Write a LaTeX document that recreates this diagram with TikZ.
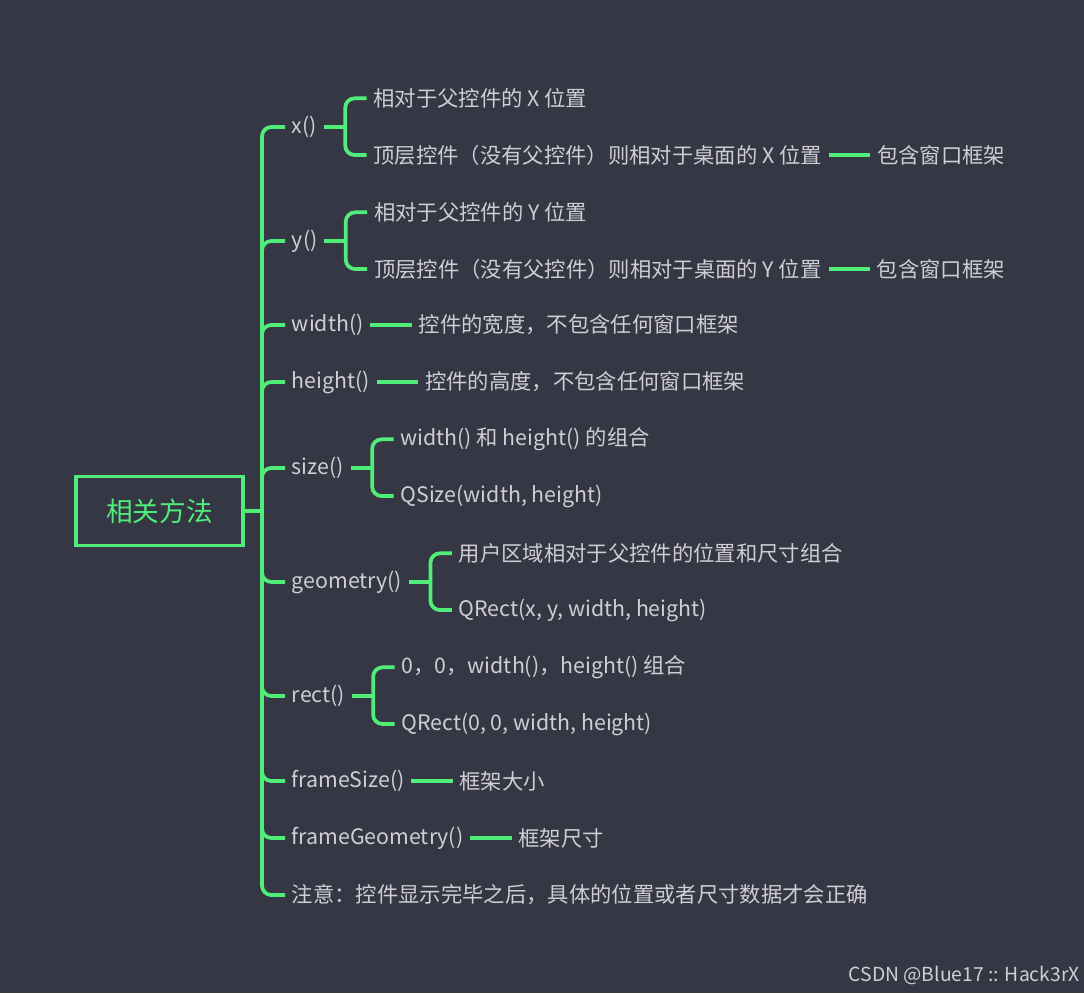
\documentclass[tikz,border=0pt]{standalone}
\usepackage{fontspec}
\setmainfont{Noto Sans CJK SC}
\usetikzlibrary{positioning}
\definecolor{bgdark}{RGB}{53,55,68}
\definecolor{mapgreen}{RGB}{80,238,120}
\definecolor{mapgray}{RGB}{206,206,212}

\begin{document}
\begin{tikzpicture}[x=0.75pt, y=-0.75pt,
    item/.style={anchor=west, text=mapgray, font=\fontsize{16}{19}\selectfont, inner xsep=5pt, inner ysep=2pt},
    link/.style={mapgreen, line width=2.8pt},
    elbow/.style={link, rounded corners=7pt}]
    % Background
    \fill[bgdark] (0,0) rectangle (1084,993);
    \useasboundingbox (0,0) rectangle (1084,993);

    % Root
    \node[draw=mapgreen, line width=2.6pt, text=mapgreen, font=\fontsize{20}{24}\selectfont,
          minimum width=125pt, minimum height=52pt] (root) at (159.5,511) {相关方法};
    \coordinate (trunk) at (262,511);
    \draw[link] (root) -- (trunk);

    % First level
    \node[item] (xpos) at (285,127) {x()};
    \node[item] (ypos) at (285,241) {y()};
    \node[item] (width) at (285,325) {width()};
    \node[item] (height) at (285,382) {height()};
    \node[item] (size) at (285,468) {size()};
    \node[item] (geom) at (285,582) {geometry()};
    \node[item] (rect) at (285,696) {rect()};
    \node[item] (fsize) at (285,781) {frameSize()};
    \node[item] (fgeom) at (285,838) {frameGeometry()};
    \node[item] (note) at (285,895) {注意：控件显示完毕之后，具体的位置或者尺寸数据才会正确};
    \foreach \n in {xpos,ypos,width,height,size,geom,rect,fsize,fgeom,note}
        \draw[elbow] (trunk) |- (\n);

    % x() branch
    \coordinate[right=16pt of xpos] (xposb);
    \node[item, right=16pt of xposb, yshift=21.5pt] (xpos1) {相对于父控件的 X 位置};
    \node[item, right=16pt of xposb, yshift=-21pt] (xpos2) {顶层控件（没有父控件）则相对于桌面的 X 位置};
    \node[item, right=31pt of xpos2] (xpos3) {包含窗口框架};
    \draw[link] (xpos) -- (xposb);
    \draw[elbow] (xposb) |- (xpos1);
    \draw[elbow] (xposb) |- (xpos2);
    \draw[link] (xpos2) -- (xpos3);

    % y() branch
    \coordinate[right=16pt of ypos] (yposb);
    \node[item, right=16pt of yposb, yshift=21.5pt] (ypos1) {相对于父控件的 Y 位置};
    \node[item, right=16pt of yposb, yshift=-21pt] (ypos2) {顶层控件（没有父控件）则相对于桌面的 Y 位置};
    \node[item, right=31pt of ypos2] (ypos3) {包含窗口框架};
    \draw[link] (ypos) -- (yposb);
    \draw[elbow] (yposb) |- (ypos1);
    \draw[elbow] (yposb) |- (ypos2);
    \draw[link] (ypos2) -- (ypos3);

    % width() and height()
    \node[item, right=31pt of width] (width1) {控件的宽度，不包含任何窗口框架};
    \node[item, right=31pt of height] (height1) {控件的高度，不包含任何窗口框架};
    \draw[link] (width) -- (width1);
    \draw[link] (height) -- (height1);

    % size() branch
    \coordinate[right=16pt of size] (sizeb);
    \node[item, right=16pt of sizeb, yshift=21.5pt] (size1) {width() 和 height() 的组合};
    \node[item, right=16pt of sizeb, yshift=-21pt] (size2) {QSize(width, height)};
    \draw[link] (size) -- (sizeb);
    \draw[elbow] (sizeb) |- (size1);
    \draw[elbow] (sizeb) |- (size2);

    % geometry() branch
    \coordinate[right=16pt of geom] (geomb);
    \node[item, right=16pt of geomb, yshift=21.5pt] (geom1) {用户区域相对于父控件的位置和尺寸组合};
    \node[item, right=16pt of geomb, yshift=-21pt] (geom2) {QRect(x, y, width, height)};
    \draw[link] (geom) -- (geomb);
    \draw[elbow] (geomb) |- (geom1);
    \draw[elbow] (geomb) |- (geom2);

    % rect() branch
    \coordinate[right=16pt of rect] (rectb);
    \node[item, right=16pt of rectb, yshift=21.5pt] (rect1) {0，0，width()，height() 组合};
    \node[item, right=16pt of rectb, yshift=-21pt] (rect2) {QRect(0, 0, width, height)};
    \draw[link] (rect) -- (rectb);
    \draw[elbow] (rectb) |- (rect1);
    \draw[elbow] (rectb) |- (rect2);

    % frameSize() and frameGeometry()
    \node[item, right=31pt of fsize] (fsize1) {框架大小};
    \node[item, right=31pt of fgeom] (fgeom1) {框架尺寸};
    \draw[link] (fsize) -- (fsize1);
    \draw[link] (fgeom) -- (fgeom1);

    % Watermark
    \node[anchor=east, text=mapgray, font=\fontsize{14.5}{17}\selectfont, inner sep=0pt] (mark) at (1080,975) {CSDN @Blue17 :: Hack3rX};
\end{tikzpicture}
\end{document}
